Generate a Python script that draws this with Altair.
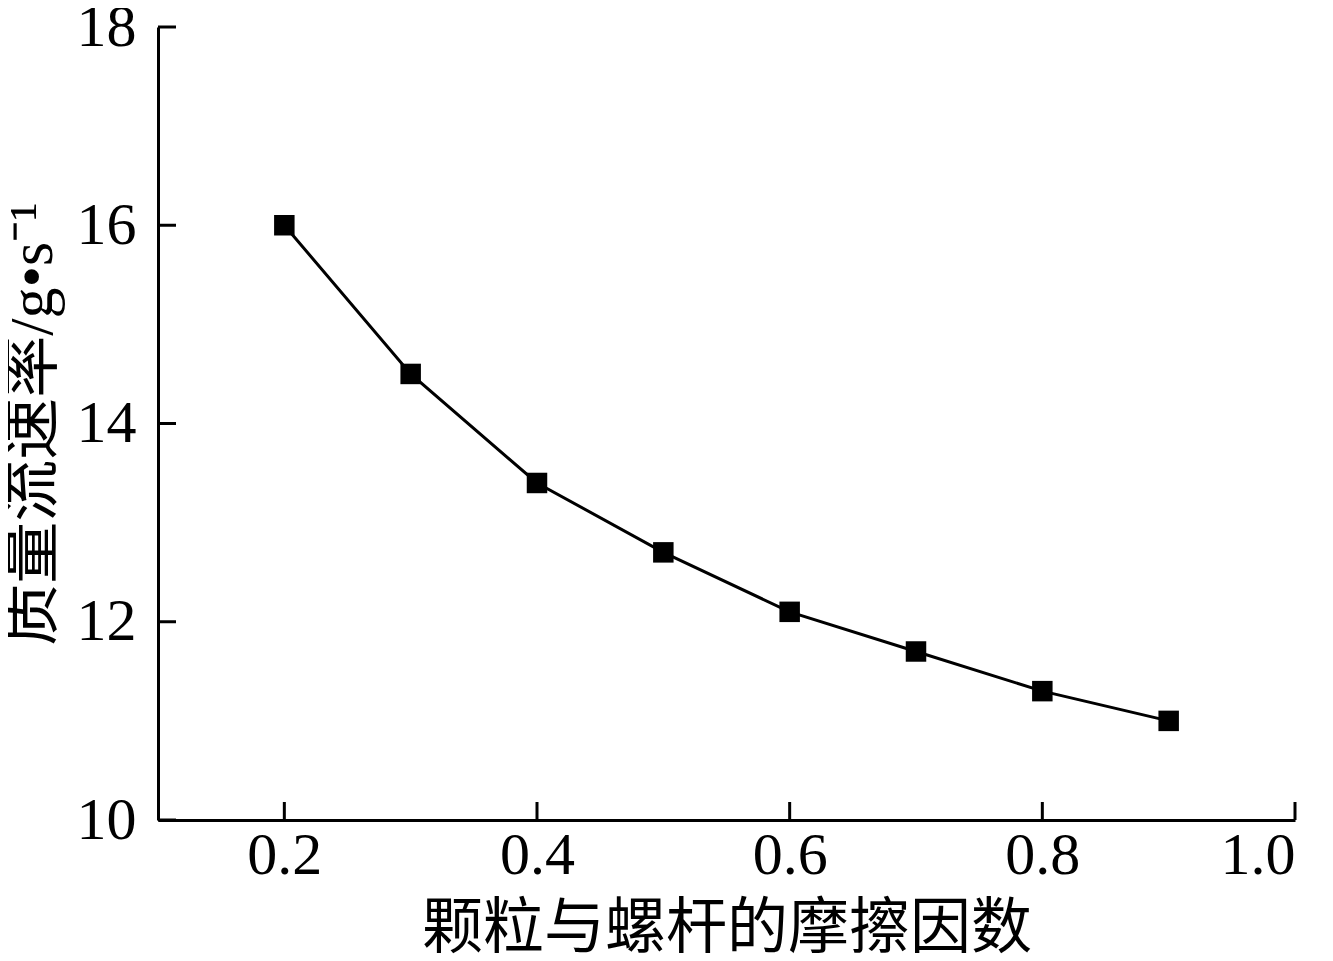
import altair as alt
import pandas as pd

friction = [0.2, 0.3, 0.4, 0.5, 0.6, 0.7, 0.8, 0.9]
mass_flow = [16.0, 14.5, 13.4, 12.7, 12.1, 11.7, 11.3, 11.0]
x_ticks = [0.2, 0.4, 0.6, 0.8, 1.0]
y_ticks = [10, 12, 14, 16, 18]

df = pd.DataFrame({"x": friction, "y": mass_flow})
dfx = pd.DataFrame({"x": x_ticks})
dfy = pd.DataFrame({"y": y_ticks})

FONT = "Liberation Serif, Times New Roman, Noto Sans CJK SC"
W, H = 1137, 793

xs = alt.Scale(domain=[0.1, 1.0], nice=False, zero=False)
ys = alt.Scale(domain=[10, 18], nice=False, zero=False)

xaxis = alt.Axis(values=x_ticks, format=".1f", tickSize=0, grid=False,
                 domainColor="black", domainWidth=3, labelFont=FONT, labelFontSize=60,
                 labelColor="black", labelPadding=6, title="颗粒与螺杆的摩擦因数",
                 titleFont=FONT, titleFontSize=61, titleFontWeight="normal",
                 titleColor="black", titlePadding=14)
yaxis = alt.Axis(values=y_ticks, format="d", tickSize=0, grid=False,
                 domainColor="black", domainWidth=3, labelFont=FONT, labelFontSize=60,
                 labelColor="black", labelPadding=22, title="质量流速率/g•s⁻¹",
                 titleFont=FONT, titleFontSize=62, titleFontWeight="normal",
                 titleColor="black", titlePadding=12)

line = alt.Chart(df).mark_line(color="black", strokeWidth=3).encode(
    x=alt.X("x:Q", scale=xs, axis=xaxis),
    y=alt.Y("y:Q", scale=ys, axis=yaxis),
)
pts = alt.Chart(df).mark_square(color="black", size=420, opacity=1).encode(
    x=alt.X("x:Q", scale=xs),
    y=alt.Y("y:Q", scale=ys),
)
xt = alt.Chart(dfx).mark_rule(color="black", strokeWidth=3).encode(
    x=alt.X("x:Q", scale=xs),
    y=alt.value(H),
    y2=alt.value(H - 18),
)
yt = alt.Chart(dfy).mark_rule(color="black", strokeWidth=3).encode(
    y=alt.Y("y:Q", scale=ys),
    x=alt.value(0),
    x2=alt.value(18),
)

chart = alt.layer(line, pts, xt, yt).properties(
    width=W, height=H,
    autosize=alt.AutoSizeParams(type="none"),
    padding={"left": 150, "top": 19, "right": 30, "bottom": 140},
).configure_view(stroke=None)

chart.save("out.html", embed_options={"renderer": "svg", "actions": False})
